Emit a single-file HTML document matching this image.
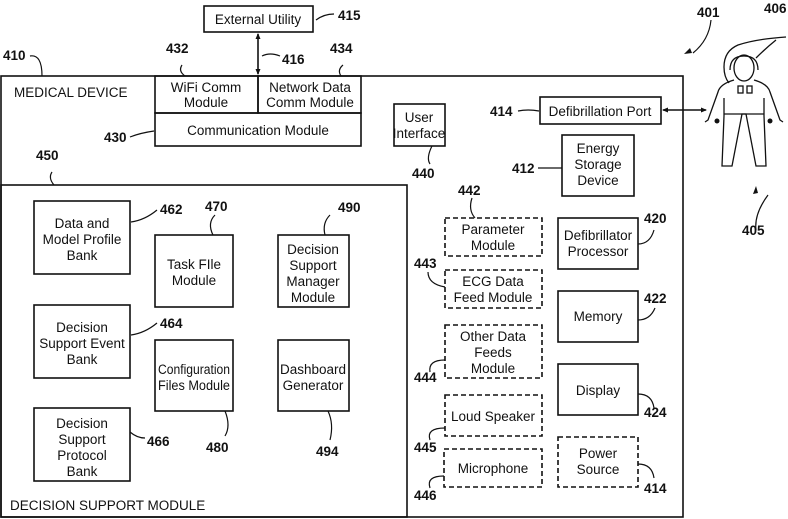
<!DOCTYPE html>
<html><head><style>
html,body{margin:0;padding:0;background:#fff;}
svg{display:block;}
text{font-family:"Liberation Sans",sans-serif;font-size:13.5px;fill:#111;}
.n{font-size:14px;font-weight:bold;}
</style></head><body>
<svg width="788" height="519" viewBox="0 0 788 519" xmlns="http://www.w3.org/2000/svg">
<defs><marker id="a" markerWidth="6" markerHeight="6" refX="5" refY="3" orient="auto-start-reverse" markerUnits="userSpaceOnUse"><path d="M0,0.5 L6,3 L0,5.5 z" fill="#111"/></marker></defs>
<g fill="none" stroke="#111" stroke-width="1.6">
<rect x="1" y="76" width="682" height="441"/>
<rect x="1" y="185" width="406" height="332"/>
<rect x="204" y="6" width="109" height="26"/>
<rect x="155" y="76" width="103" height="37"/>
<rect x="258" y="76" width="103" height="37"/>
<rect x="155" y="113" width="206" height="33"/>
<rect x="394" y="104" width="51" height="42"/>
<rect x="540" y="97" width="121" height="27"/>
<rect x="562" y="135" width="72" height="61"/>
<rect x="34" y="201" width="96" height="73"/>
<rect x="155" y="235" width="78" height="72"/>
<rect x="278" y="235" width="71" height="72"/>
<rect x="34" y="305" width="96" height="73"/>
<rect x="155" y="340" width="78" height="71"/>
<rect x="278" y="340" width="71" height="71"/>
<rect x="34" y="408" width="96" height="73"/>
<rect x="558" y="218" width="80" height="51"/>
<rect x="558" y="291" width="80" height="51"/>
<rect x="558" y="364" width="80" height="51"/>
<g stroke-dasharray="5,3">
<rect x="445" y="218" width="97" height="38"/>
<rect x="445" y="270" width="97" height="38"/>
<rect x="445" y="325" width="97" height="53"/>
<rect x="445" y="395" width="97" height="41"/>
<rect x="444" y="449" width="98" height="38"/>
<rect x="558" y="437" width="80" height="50"/>
</g>
<line x1="258" y1="34" x2="258" y2="74" marker-start="url(#a)" marker-end="url(#a)"/>
<line x1="663" y1="110" x2="706" y2="110" marker-start="url(#a)" marker-end="url(#a)"/>
<g stroke-width="1.2">
<path d="M316,20 q8,-6 18,-6"/><path d="M262,56 q8,-4 18,0"/>
<path d="M30,56 q12,-2 12,20"/><path d="M182,65 q-4,6 3,11"/><path d="M343,65 q-6,5 -2,11"/>
<path d="M130,137 q10,-4 24,-6"/><path d="M52,172 q-4,6 2,13"/>
<path d="M518,111 q10,-2 21,0"/>
<path d="M430,164 q-4,-6 2,-18"/><path d="M538,168 q10,0 24,0"/>
<path d="M131,222 q14,-2 26,-12"/><path d="M215,215 q-8,8 -2,20"/><path d="M330,215 q-8,8 -5,20"/>
<path d="M131,335 q14,-2 26,-12"/><path d="M145,438 q-8,0 -15,-6"/>
<path d="M225,436 q6,-10 0,-25"/><path d="M330,440 q4,-16 -2,-29"/>
<path d="M472,198 q-4,12 3,20"/><path d="M428,272 q0,12 17,15"/><path d="M430,372 q-2,-12 15,-12"/>
<path d="M430,440 q-4,-12 15,-12"/><path d="M430,488 q-4,-12 14,-12"/>
<path d="M638,244 q12,0 16,-14"/><path d="M638,320 q12,0 17,-12"/><path d="M638,394 q14,0 16,14"/><path d="M638,464 q14,0 16,14"/>
<path d="M711,20 q-2,20 -18,33"/><path d="M756,230 q-2,-16 12,-35"/>
</g>
<!-- person -->
<g stroke-width="1.3">
<path d="M786,37 q-30,2 -48,8 q-14,6 -14,22 q0,10 5,16"/>
<ellipse cx="744" cy="68" rx="10" ry="13"/>
<path d="M744,56 q-14,0 -14,14 M744,56 q14,0 14,14"/>
<path d="M734,80 q-14,4 -16,12 l-10,28 l-3,2 M754,80 q14,4 16,12 l10,28 l3,2"/>
<path d="M724,98 l0,18 l-2,50 l10,0 l10,-52 l4,0 l10,52 l10,0 l-2,-50 l0,-18"/>
<line x1="724" y1="114" x2="764" y2="114"/>
<rect x="738" y="86" width="5" height="7"/><rect x="747" y="86" width="5" height="7"/>
<path d="M756,58 q10,-10 20,-18"/>
</g>
</g>
<circle cx="717" cy="121" r="2.5" fill="#111"/><circle cx="770" cy="121" r="2.5" fill="#111"/>
<path d="M690,48 l-6,6 l8,-1 z" fill="#111"/><path d="M756,186 l-3,8 l5,-1 z" fill="#111"/>
<g text-anchor="middle">
<text x="258" y="24">External Utility</text>
<text x="206" y="92">WiFi Comm</text><text x="206" y="107">Module</text>
<text x="310" y="92">Network Data</text><text x="310" y="107">Comm Module</text>
<text x="258" y="135">Communication Module</text>
<text x="419" y="122">User</text><text x="419" y="138">Interface</text>
<text x="600" y="116">Defibrillation Port</text>
<text x="598" y="153">Energy</text><text x="598" y="169">Storage</text><text x="598" y="185">Device</text>
<text x="82" y="228">Data and</text><text x="82" y="244">Model Profile</text><text x="82" y="260">Bank</text>
<text x="194" y="269">Task FIle</text><text x="194" y="285">Module</text>
<text x="313" y="254">Decision</text><text x="313" y="270">Support</text><text x="313" y="286">Manager</text><text x="313" y="302">Module</text>
<text x="82" y="332">Decision</text><text x="82" y="348">Support Event</text><text x="82" y="364">Bank</text>
<text x="194" y="374" textLength="72" lengthAdjust="spacingAndGlyphs">Configuration</text><text x="194" y="390" textLength="72" lengthAdjust="spacingAndGlyphs">Files Module</text>
<text x="313" y="374">Dashboard</text><text x="313" y="390">Generator</text>
<text x="82" y="428">Decision</text><text x="82" y="444">Support</text><text x="82" y="460">Protocol</text><text x="82" y="476">Bank</text>
<text x="493" y="234">Parameter</text><text x="493" y="250">Module</text>
<text x="493" y="286">ECG Data</text><text x="493" y="302">Feed Module</text>
<text x="493" y="341">Other Data</text><text x="493" y="357">Feeds</text><text x="493" y="373">Module</text>
<text x="493" y="421">Loud Speaker</text>
<text x="493" y="473">Microphone</text>
<text x="598" y="240">Defibrillator</text><text x="598" y="256">Processor</text>
<text x="598" y="321">Memory</text>
<text x="598" y="395">Display</text>
<text x="598" y="458">Power</text><text x="598" y="474">Source</text>
</g>
<text x="14" y="97">MEDICAL DEVICE</text>
<text x="10" y="510">DECISION SUPPORT MODULE</text>
<g class="n">
<text x="338" y="20">415</text><text x="282" y="64">416</text>
<text x="3" y="60">410</text><text x="166" y="53">432</text><text x="330" y="53">434</text>
<text x="104" y="142">430</text><text x="36" y="160">450</text>
<text x="490" y="116">414</text><text x="412" y="178">440</text><text x="512" y="173">412</text>
<text x="160" y="214">462</text><text x="205" y="211">470</text><text x="338" y="212">490</text>
<text x="160" y="328">464</text><text x="147" y="446">466</text>
<text x="206" y="452">480</text><text x="316" y="456">494</text>
<text x="458" y="195">442</text><text x="414" y="268">443</text><text x="414" y="382">444</text>
<text x="414" y="452">445</text><text x="414" y="500">446</text>
<text x="644" y="223">420</text><text x="644" y="303">422</text><text x="644" y="417">424</text><text x="644" y="493">414</text>
<text x="697" y="17">401</text><text x="764" y="13">406</text><text x="742" y="235">405</text>
</g>
</svg>
</body></html>
